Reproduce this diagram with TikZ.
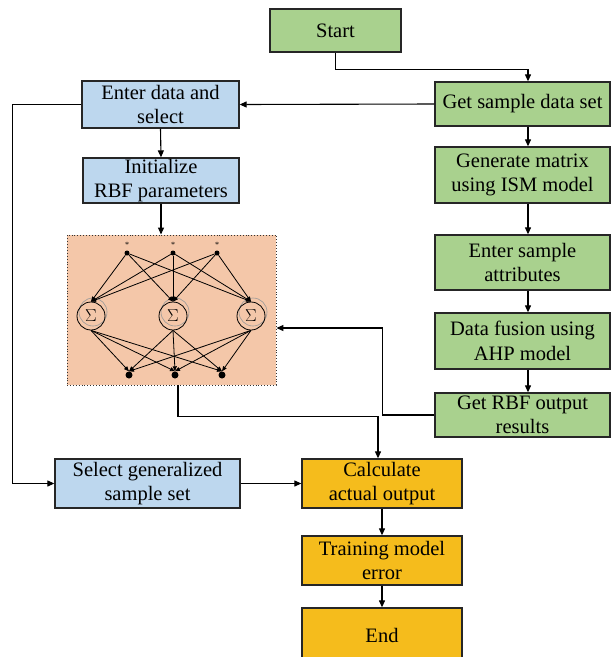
\documentclass[tikz,border=0pt]{standalone}
\usepackage{fontspec}
\setmainfont{Liberation Serif}
\usetikzlibrary{arrows.meta,calc}
\definecolor{greenfill}{HTML}{A9D18E}
\definecolor{bluefill}{HTML}{BDD7EE}
\definecolor{orangefill}{HTML}{F5BC1C}
\definecolor{peachfill}{HTML}{F4C7A9}
\begin{document}
\begin{tikzpicture}[x=1pt,y=-1pt,
  box/.style={draw=black!85, line width=1.3pt, align=center,
    font=\fontsize{20.5}{24.5}\selectfont, inner sep=0pt},
  gbox/.style={box, fill=greenfill},
  bbox/.style={box, fill=bluefill},
  obox/.style={box, fill=orangefill},
  arr/.style={-{Triangle[length=7pt,width=6pt]}, line width=1.1pt},
  narr/.style={-{Triangle[length=5pt,width=4pt]}, line width=0.8pt},
  innode/.style={circle, fill=black, inner sep=0pt, minimum size=5pt},
  outnode/.style={circle, fill=black, inner sep=0pt, minimum size=7pt},
  sumnode/.style={circle, draw=black, line width=0.8pt, inner sep=0pt,
    minimum size=28pt, font=\fontsize{18}{18}\selectfont},
  ghost/.style={circle, draw=black!40, line width=0.6pt, inner sep=0pt, minimum size=28pt}]
\useasboundingbox (0,0) rectangle (611,657);

% right column (green)
\node[gbox, minimum width=131pt, minimum height=43pt] (start) at (335.5,30.5) {Start};
\node[gbox, minimum width=175pt, minimum height=44pt] (gsds) at (522.5,104) {Get sample data set};
\node[gbox, minimum width=175pt, minimum height=56pt] (gm) at (522.5,175) {Generate matrix\\using ISM model};
\node[gbox, minimum width=175pt, minimum height=55pt] (esa) at (522.5,262.5) {Enter sample\\attributes};
\node[gbox, minimum width=175pt, minimum height=56pt] (df) at (522.5,341) {Data fusion using\\AHP model};
\node[gbox, minimum width=175pt, minimum height=44pt] (gro) at (522.5,415) {Get RBF output\\results};

% left column (blue)
\node[bbox, minimum width=157pt, minimum height=47pt] (eds) at (160.5,104.5) {Enter data and\\select};
\node[bbox, minimum width=156pt, minimum height=45pt] (init) at (161,180.5) {Initialize\\RBF parameters};
\node[bbox, minimum width=185pt, minimum height=49pt] (sel) at (147.5,483.5) {Select generalized\\sample set};

% bottom column (orange)
\node[obox, minimum width=160pt, minimum height=49pt] (calc) at (382,483.5) {Calculate\\actual output};
\node[obox, minimum width=160pt, minimum height=49pt] (tme) at (382,560.5) {Training model\\error};
\node[obox, minimum width=160pt, minimum height=54pt] (end) at (382,635) {End};

% RBF network panel
\node[draw=black!80, dotted, line width=0.9pt, fill=peachfill,
  minimum width=209pt, minimum height=150pt, inner sep=0pt] (net) at (171.5,310) {};
\foreach \n/\x in {1/127,2/173,3/217}{
  \node[innode] (i\n) at (\x,253) {};
  \node[font=\fontsize{8}{8}\selectfont, inner sep=0pt] (a\n) at (\x,245) {*};
}
\foreach \n/\x in {1/91,2/173,3/251}{
  \node[ghost] (g\n) at (\x+2,312) {};
  \node[sumnode] (s\n) at (\x,316) {$\Sigma$};
}
\foreach \n/\x in {1/129,2/175,3/222}
  \node[outnode] (o\n) at (\x,375) {};
\foreach \i in {1,2,3}
  \foreach \s in {1,2,3}
    \draw[narr] (i\i) -- (s\s.north);
\foreach \s in {1,2,3}
  \foreach \o in {1,2,3}
    \draw[narr] (s\s.south) -- (o\o.north);

% connectors
\draw[arr] (start.south) |- ($(gsds.north)+(5.5,-12)$) -- ([xshift=5.5pt]gsds.north);
\draw[arr] ([xshift=5.5pt]gsds.south) -- ([xshift=5.5pt]gm.north);
\draw[arr] ([xshift=5.5pt]gm.south) -- ([xshift=5.5pt]esa.north);
\draw[arr] ([xshift=5.5pt]esa.south) -- ([xshift=5.5pt]df.north);
\draw[arr] ([xshift=5.5pt]df.south) -- ([xshift=5.5pt]gro.north);
\draw[arr] (gsds.west) -- (eds.east);
\draw[arr] (eds.south) -- (init.north);
\draw[arr] (eds.west) -- ++(-69,0) |- (sel.west);
\draw[arr] (init.south) -- (init.south |- net.north);
\draw[arr] ([xshift=6.5pt]net.south) |- ($(calc.north)+(-4,-42)$) -- ([xshift=-4pt]calc.north);
\draw[arr] (gro.west) -- ++(-52,0) |- ([yshift=-18pt]net.east);
\draw[arr] (sel.east) -- (calc.west);
\draw[arr] (calc.south) -- (tme.north);
\draw[arr] (tme.south) -- (end.north);
\end{tikzpicture}
\end{document}
